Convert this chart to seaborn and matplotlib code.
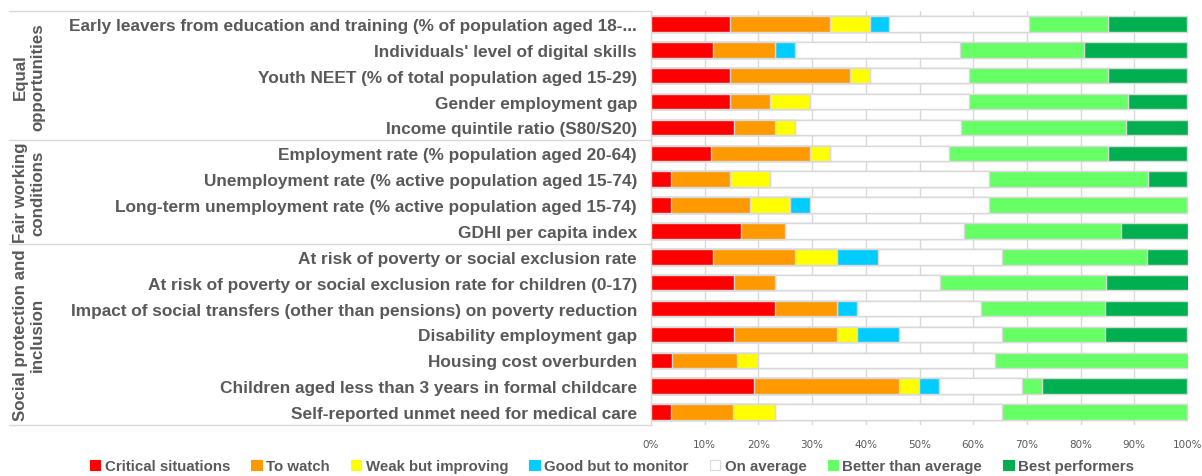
import matplotlib
matplotlib.use("Agg")
import matplotlib.pyplot as plt
from matplotlib.patches import Patch
import pandas as pd
import seaborn as sns

# ----------------------------------------------------------------------
# Data (share of countries in each situation, %)
# ----------------------------------------------------------------------
indicators = [
    "Early leavers from education and training (% of population aged 18-...",
    "Individuals' level of digital skills",
    "Youth NEET (% of total population aged 15-29)",
    "Gender employment gap",
    "Income quintile ratio (S80/S20)",
    "Employment rate (% population aged 20-64)",
    "Unemployment rate (% active population aged 15-74)",
    "Long-term unemployment rate (% active population aged 15-74)",
    "GDHI per capita index",
    "At risk of poverty or social exclusion rate",
    "At risk of poverty or social exclusion rate for children (0-17)",
    "Impact of social transfers (other than pensions) on poverty reduction",
    "Disability employment gap",
    "Housing cost overburden",
    "Children aged less than 3 years in formal childcare",
    "Self-reported unmet need for medical care",
]

statuses = ["Critical situations", "To watch", "Weak but improving",
            "Good but to monitor", "On average", "Better than average",
            "Best performers"]

critical = [14.8, 11.5, 14.8, 14.8, 15.4, 11.1, 3.7, 3.7, 16.7, 11.5, 15.4, 23.1, 15.4, 4.0, 19.2, 3.8]
to_watch = [18.5, 11.5, 22.2, 7.4, 7.7, 18.5, 11.1, 14.8, 8.3, 15.4, 7.7, 11.5, 19.2, 12.0, 26.9, 11.5]
weak_improving = [7.4, 0, 3.7, 7.4, 3.8, 3.7, 7.4, 7.4, 0, 7.7, 0, 0, 3.8, 4.0, 3.8, 7.7]
good_monitor = [3.7, 3.8, 0, 0, 0, 0, 0, 3.7, 0, 7.7, 0, 3.8, 7.7, 0, 3.8, 0]
on_average = [25.9, 30.8, 18.5, 29.6, 30.8, 22.2, 40.7, 33.3, 33.3, 23.1, 30.8, 23.1, 19.2, 44.0, 15.4, 42.3]
better = [14.8, 23.1, 25.9, 29.6, 30.8, 29.6, 29.6, 37.0, 29.2, 26.9, 30.8, 23.1, 19.2, 36.0, 3.8, 34.6]
best = [14.8, 19.2, 14.8, 11.1, 11.5, 14.8, 7.4, 0, 12.5, 7.7, 15.4, 15.4, 15.4, 0, 26.9, 0]

groups = ["Equal\nopportunities", "Fair working\nconditions",
          "Social protection and\ninclusion"]
group_sizes = [5, 4, 7]

colors = ["#FF0000", "#FF9900", "#FFFF00", "#00CCFF", "#FFFFFF", "#66FF66", "#00B050"]

GREY = "#595959"
EDGE = "#D9D9D9"

# ----------------------------------------------------------------------
# Build cumulative table
# ----------------------------------------------------------------------
df = pd.DataFrame({"indicator": indicators})
for name, vals in zip(statuses, [critical, to_watch, weak_improving, good_monitor,
                                  on_average, better, best]):
    df[name] = vals
cum = df[statuses].cumsum(axis=1)

sns.set_theme(style="white")
plt.rcParams["font.family"] = ["Liberation Sans", "DejaVu Sans"]

fig = plt.figure(figsize=(12.02, 4.77), dpi=100)
ax = fig.add_axes([651 / 1202, 1 - 426 / 477, 537 / 1202, 414 / 477])

# draw from the longest cumulative bar to the shortest so they stack visually
for name, col in reversed(list(zip(statuses, colors))):
    sns.barplot(x=cum[name], y=df["indicator"], orient="h", color=col,
                saturation=1, width=0.6, edgecolor=EDGE, linewidth=1,
                ax=ax, zorder=3)

ax.set_xlim(0, 100)
ax.set_ylim(len(indicators) - 0.5, -0.5)
ax.set_xticks(range(0, 101, 10))
ax.set_xticklabels([f"{v}%" for v in range(0, 101, 10)], fontsize=7.5,
                   color=GREY, family=["Liberation Sans Narrow", "DejaVu Sans"])
ax.set_xlabel("")
ax.set_ylabel("")
ax.tick_params(axis="y", length=0, pad=10, labelsize=12.4, labelcolor=GREY)
ax.tick_params(axis="x", length=0, pad=10)
for lbl in ax.get_yticklabels():
    lbl.set_fontweight("bold")

ax.grid(axis="x", color=EDGE, linewidth=1, zorder=0)
ax.grid(axis="y", visible=False)
for s in ["top", "right", "bottom"]:
    ax.spines[s].set_visible(False)
ax.spines["left"].set_color(EDGE)
ax.spines["left"].set_linewidth(1)

# group separators and labels on the left
trans = ax.get_yaxis_transform()
x_left = (9 - 651) / 537
bounds = [-0.5]
for n in group_sizes:
    bounds.append(bounds[-1] + n)
for b in bounds:
    ax.plot([x_left, 0], [b, b], color=EDGE, linewidth=1, transform=trans,
            clip_on=False, zorder=1)
for g, lo, hi in zip(groups, bounds[:-1], bounds[1:]):
    ax.text((29 - 651) / 537, (lo + hi) / 2, g, transform=trans, rotation=90,
            ha="center", va="center", fontsize=12.2, fontweight="bold",
            color=GREY, linespacing=1.2, multialignment="center")

handles = [Patch(facecolor=c, edgecolor=EDGE if c == "#FFFFFF" else c, linewidth=0.8)
           for c in colors]
fig.legend(handles, statuses, loc="center", ncol=7,
           bbox_to_anchor=(612 / 1202, 1 - 467 / 477), frameon=False,
           handlelength=0.7, handleheight=0.7, handletextpad=0.3,
           columnspacing=1.4, prop={"weight": "bold", "size": 10.8},
           labelcolor=GREY)

fig.savefig("out.png", dpi=100)
